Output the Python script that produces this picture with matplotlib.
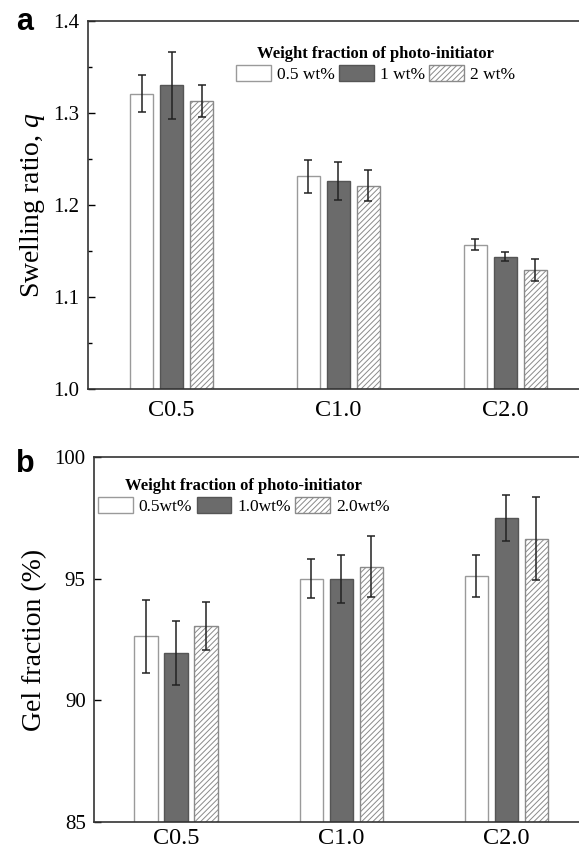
import numpy as np
import matplotlib
matplotlib.use("Agg")
import matplotlib.pyplot as plt

plt.rcParams['font.family'] = 'Liberation Serif'
plt.rcParams['mathtext.fontset'] = 'custom'
plt.rcParams['mathtext.it'] = 'Liberation Serif:italic'
plt.rcParams['mathtext.rm'] = 'Liberation Serif'
plt.rcParams['hatch.linewidth'] = 0.7
plt.rcParams['hatch.color'] = '#8a8a8a'

# données
samples = ["C0.5", "C1.0", "C2.0"]

# (a) taux de gonflement
labels_a = ["0.5 wt%", "1 wt%", "2 wt%"]
q_05 = [1.321, 1.231, 1.157]
q_1 = [1.330, 1.226, 1.144]
q_2 = [1.313, 1.221, 1.129]
q_05_err = [0.020, 0.018, 0.006]
q_1_err = [0.036, 0.021, 0.005]
q_2_err = [0.017, 0.017, 0.012]

# (b) fraction de gel
labels_b = ["0.5wt%", "1.0wt%", "2.0wt%"]
gel_05 = [92.63, 95.0, 95.1]
gel_1 = [91.95, 95.0, 97.5]
gel_2 = [93.05, 95.5, 96.65]
gel_05_err = [1.5, 0.79, 0.87]
gel_1_err = [1.32, 0.98, 0.94]
gel_2_err = [1.0, 1.25, 1.72]

styles = [dict(facecolor='white', edgecolor='#9a9a9a'),
          dict(facecolor='#6b6b6b', edgecolor='#555555'),
          dict(facecolor='white', edgecolor='#8a8a8a', hatch='//////')]

fig = plt.figure(figsize=(5.79, 8.52), dpi=100)
W, H = 579, 852


def draw_panel(ax, series, errs, labels, width, offset, xpad):
    x = np.arange(len(samples))
    for i, (vals, err) in enumerate(zip(series, errs)):
        ax.bar(x + (i - 1) * offset, vals, width, linewidth=1.0,
               yerr=err, capsize=3,
               error_kw=dict(ecolor='#222222', elinewidth=1.1, capthick=1.1),
               label=labels[i], zorder=2, **styles[i])
    ax.set_xticks(x)
    ax.set_xticklabels(samples, fontsize=17.5)
    ax.tick_params(axis='x', length=0, pad=xpad)
    ax.tick_params(axis='y', direction='in', labelsize=15, length=5, width=1, pad=6)
    ax.tick_params(axis='y', which='minor', direction='in', length=3, width=1)
    ax.spines['right'].set_visible(False)
    for s in ['left', 'top', 'bottom']:
        ax.spines[s].set_linewidth(1.2)
        ax.spines[s].set_color('#333333')


def add_legend(ax, anchor):
    ax.legend(loc='upper left', bbox_to_anchor=anchor, ncol=3, frameon=False,
              fontsize=12.5, title="Weight fraction of photo-initiator",
              title_fontproperties=dict(weight='bold', size=12),
              handlelength=2.0, handleheight=1.0, handletextpad=0.35,
              columnspacing=0.25, borderpad=0, borderaxespad=0, labelspacing=0.2)


# panneau a
ax1 = fig.add_axes([88 / W, 1 - 389 / H, (W - 88) / W, 368 / H])
draw_panel(ax1, [q_05, q_1, q_2], [q_05_err, q_1_err, q_2_err], labels_a, 0.138, 0.18, 8)
ax1.set_xlim(-0.502, 2.443)
ax1.set_ylim(1.0, 1.4)
ax1.set_yticks([1.0, 1.1, 1.2, 1.3, 1.4])
ax1.set_yticks(np.arange(1.05, 1.4, 0.1), minor=True)
ax1.set_ylabel("Swelling ratio, $q$", fontsize=20, labelpad=5)
add_legend(ax1, (148 / 491, 1 - 25 / 368))

# panneau b
ax2 = fig.add_axes([94 / W, 1 - 822 / H, (W - 94) / W, 365 / H])
draw_panel(ax2, [gel_05, gel_1, gel_2], [gel_05_err, gel_1_err, gel_2_err], labels_b, 0.141, 0.182, 4)
ax2.set_xlim(-0.497, 2.44)
ax2.set_ylim(85, 100)
ax2.set_yticks([85, 90, 95, 100])
ax2.set_ylabel("Gel fraction (%)", fontsize=20, labelpad=5)
add_legend(ax2, (4 / 485, 1 - 21 / 365))

fig.text(25 / W, 1 - 22 / H, "a", fontsize=22, fontweight='bold',
         family='Liberation Sans', ha='center', va='center')
fig.text(25 / W, 1 - 464 / H, "b", fontsize=22, fontweight='bold',
         family='Liberation Sans', ha='center', va='center')

fig.savefig("out.png", dpi=100)
